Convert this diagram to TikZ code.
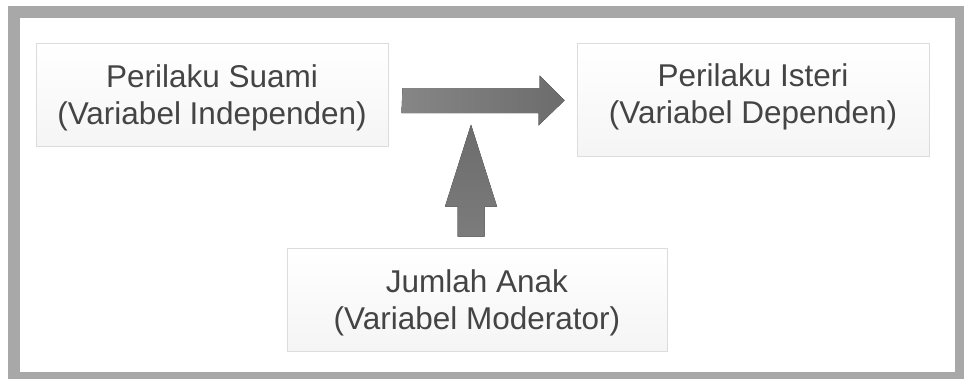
\documentclass[tikz,border=0pt]{standalone}
\usepackage{fontspec}
\setmainfont{Liberation Sans}
\usetikzlibrary{calc}
\definecolor{framegray}{HTML}{A8A8A8}
\definecolor{boxline}{HTML}{DCDCDC}
\definecolor{txt}{HTML}{444444}
\definecolor{arrowlight}{HTML}{868686}
\definecolor{arrowdark}{HTML}{6C6C6C}
\begin{document}
\begin{tikzpicture}[x=1pt,y=-1pt,
  varbox/.style={draw=boxline, line width=1pt, top color=white, bottom color=gray!8, inner sep=0pt},
  lbl/.style={align=center, text=txt, font=\fontsize{31.5}{37}\selectfont, inner sep=0pt},
  harrow/.style={left color=arrowlight, right color=arrowdark, draw=none},
  varrow/.style={top color=arrowdark, bottom color=arrowlight!60!arrowdark, draw=none}]

  % canvas and outer frame
  \fill[white] (0,0) rectangle (964,378);
  \useasboundingbox (0,0) rectangle (964,378);
  \draw[framegray, line width=12pt] (14,11.5) rectangle (961,378);

  % variable boxes
  \node[varbox, minimum width=352pt, minimum height=103pt] (b1) at (212,94.5) {};
  \node[varbox, minimum width=352pt, minimum height=113pt] (b2) at (753,99.5) {};
  \node[varbox, minimum width=380pt, minimum height=103pt] (b3) at (477,299.5) {};

  \node[lbl] (t1) at ($(b1.center)+(0,3)$) {Perilaku Suami\\(Variabel Independen)};
  \node[lbl] (t2) at ($(b2.center)+(0,-3)$) {Perilaku Isteri\\(Variabel Dependen)};
  \node[lbl] (t3) at ($(b3.center)+(0,3.5)$) {Jumlah Anak\\(Variabel Moderator)};

  % block arrow from the independent to the dependent variable
  \coordinate (hs) at ($(b1.east)+(14,6)$);
  \coordinate (he) at ($(b2.west)+(-12,1)$);
  \fill[harrow] (hs) ++(0,-12.5) -- ++(137,0) -- ++(0,-12.5) -- (he)
    -- ++(-26,25) -- ++(0,-12.5) -- ++(-137,0) -- cycle;

  % block arrow from the moderator up to the main relation
  \coordinate (vs) at ($(b3.north)+(-6,-11)$);
  \coordinate (vt) at ($(vs)+(0,-112)$);
  \fill[varrow] (vs) ++(-13.5,0) -- ++(0,-30) -- ++(-12.5,0) -- (vt)
    -- ++(26,82) -- ++(-12.5,0) -- ++(0,30) -- cycle;
\end{tikzpicture}
\end{document}
